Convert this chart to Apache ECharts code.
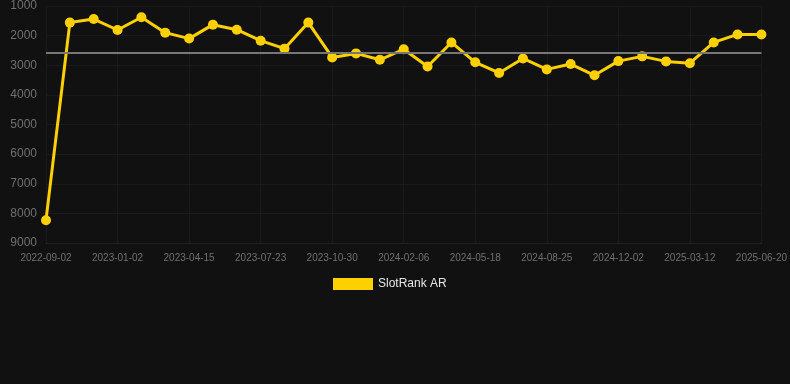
<!DOCTYPE html>
<html>
<head>
<meta charset="utf-8">
<script src="https://cdn.jsdelivr.net/npm/echarts@6/dist/echarts.min.js"></script>
<style>
html,body{margin:0;padding:0;background:#111111;}
#c{width:790px;height:384px;}
</style>
</head>
<body>
<div id="c"></div>
<script>
var categories = [
  '2022-09-02','2022-10-13','2022-11-23','2023-01-02','2023-02-05','2023-03-11',
  '2023-04-15','2023-05-18','2023-06-20','2023-07-23','2023-08-25','2023-09-27',
  '2023-10-30','2023-12-02','2024-01-04','2024-02-06','2024-03-10','2024-04-14',
  '2024-05-18','2024-06-20','2024-07-23','2024-08-25','2024-09-27','2024-10-30',
  '2024-12-02','2025-01-04','2025-02-07','2025-03-12','2025-04-14','2025-05-17',
  '2025-06-20'
];
var rankValues = [
  8230,1560,1440,1810,1380,1900,
  2100,1630,1800,2170,2440,1560,
  2735,2600,2815,2460,3040,2230,
  2900,3260,2770,3140,2960,3340,
  2860,2700,2870,2930,2230,1960,
  1960
];
var seriesName = 'SlotRank AR';

var chart = echarts.init(document.getElementById('c'), null, {renderer:'canvas'});
chart.setOption({
  backgroundColor: '#111111',
  animation: false,
  grid: {left: 46, right: 28, top: 6, bottom: 141, containLabel: false},
  legend: {
    data: [seriesName],
    top: 273,
    left: 328,
    itemWidth: 40,
    itemHeight: 12,
    itemGap: 10,
    icon: 'rect',
    textStyle: {color: '#e6e6e6', fontSize: 12, fontFamily: 'Arial, Liberation Sans, sans-serif'}
  },
  xAxis: {
    type: 'category',
    data: categories,
    boundaryGap: false,
    axisLine: {show: true, lineStyle: {color: '#222222'}},
    axisTick: {show: false},
    axisLabel: {interval: 2, color: '#707070', fontSize: 10, margin: 10, fontFamily: 'Arial, Liberation Sans, sans-serif'},
    splitLine: {show: true, interval: 2, lineStyle: {color: '#1a1a1a'}}
  },
  yAxis: {
    type: 'value',
    inverse: true,
    min: 1000,
    max: 9000,
    interval: 1000,
    axisLine: {show: false},
    axisTick: {show: false},
    axisLabel: {color: '#707070', fontSize: 12, margin: 9, fontFamily: 'Arial, Liberation Sans, sans-serif',
      formatter: function (v) { return String(v); }},
    splitLine: {show: true, lineStyle: {color: '#1a1a1a'}}
  },
  series: [{
    name: seriesName,
    type: 'line',
    data: rankValues,
    color: '#FFD000',
    symbol: 'circle',
    symbolSize: 10,
    lineStyle: {width: 3, color: '#FFD000'},
    itemStyle: {color: '#FFD000'},
    markLine: {
      silent: true,
      symbol: 'none',
      label: {show: false},
      lineStyle: {color: '#777777', type: 'solid', width: 2},
      data: [{type: 'average'}]
    }
  }]
});
</script>
</body>
</html>
